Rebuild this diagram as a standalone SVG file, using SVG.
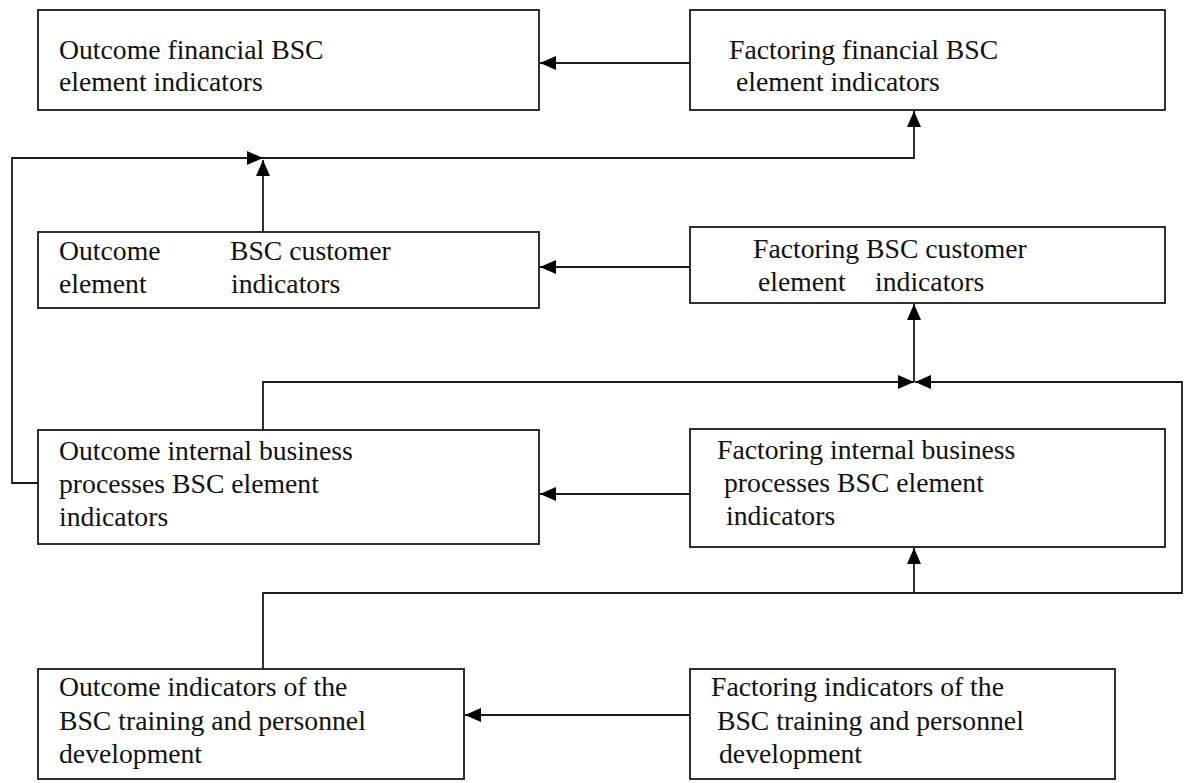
<svg xmlns="http://www.w3.org/2000/svg" width="1184" height="783" viewBox="0 0 1184 783">
<style>
.box{fill:#fff;stroke:#1a1a1a;stroke-width:1.8}
.t{font-size:27.7px;fill:#111}
.c{fill:none;stroke:#1a1a1a;stroke-width:1.8}
</style>
<defs>
<marker id="ah" markerUnits="userSpaceOnUse" markerWidth="16" markerHeight="14" refX="16" refY="7" orient="auto">
<path d="M0,0 L16,7 L0,14 z" fill="#000"/>
</marker>
</defs>
<rect width="1184" height="783" fill="#fff"/>
<g id="connectors">
<line class="c" x1="690" y1="63" x2="540" y2="63" marker-end="url(#ah)"/>
<line class="c" x1="690" y1="267" x2="540" y2="267" marker-end="url(#ah)"/>
<line class="c" x1="690" y1="494" x2="540" y2="494" marker-end="url(#ah)"/>
<line class="c" x1="690" y1="715" x2="465" y2="715" marker-end="url(#ah)"/>
<polyline class="c" points="38,483 12,483 12,158 263,158" marker-end="url(#ah)"/>
<line class="c" x1="263" y1="232" x2="263" y2="160" marker-end="url(#ah)"/>
<polyline class="c" points="263,158 914,158 914,111" marker-end="url(#ah)"/>
<polyline class="c" points="263,430 263,382 914,382" marker-end="url(#ah)"/>
<line class="c" x1="914" y1="382" x2="914" y2="304" marker-end="url(#ah)"/>
<polyline class="c" points="263,669 263,593 1182,593 1182,382 915,382" marker-end="url(#ah)"/>
<line class="c" x1="914" y1="593" x2="914" y2="548" marker-end="url(#ah)"/>
</g>
<g font-family="'Liberation Serif', 'Times New Roman', 'DejaVu Serif', serif">
<g id="n1">
<rect class="box" x="38" y="10" width="501" height="100"/>
<text class="t" x="59" y="59">Outcome financial BSC</text>
<text class="t" x="59" y="91">element indicators</text>
</g>
<g id="n2">
<rect class="box" x="690" y="10" width="475" height="100"/>
<text class="t" x="729" y="59">Factoring financial BSC</text>
<text class="t" x="736" y="91">element indicators</text>
</g>
<g id="n3">
<rect class="box" x="38" y="232" width="501" height="76"/>
<text class="t" x="59" y="260">Outcome</text>
<text class="t" x="230" y="260">BSC customer</text>
<text class="t" x="59" y="293">element</text>
<text class="t" x="231" y="293">indicators</text>
</g>
<g id="n4">
<rect class="box" x="690" y="227" width="475" height="76"/>
<text class="t" x="753" y="258">Factoring BSC customer</text>
<text class="t" x="758" y="291">element</text>
<text class="t" x="875" y="291">indicators</text>
</g>
<g id="n5">
<rect class="box" x="38" y="430" width="501" height="114"/>
<text class="t" x="59" y="460">Outcome internal business</text>
<text class="t" x="59" y="493">processes BSC element</text>
<text class="t" x="59" y="526">indicators</text>
</g>
<g id="n6">
<rect class="box" x="690" y="429" width="475" height="118"/>
<text class="t" x="717" y="459">Factoring internal business</text>
<text class="t" x="724" y="492">processes BSC element</text>
<text class="t" x="726" y="525">indicators</text>
</g>
<g id="n7">
<rect class="box" x="38" y="669" width="426" height="110"/>
<text class="t" x="59" y="696">Outcome indicators of the</text>
<text class="t" x="59" y="730">BSC training and personnel</text>
<text class="t" x="59" y="763">development</text>
</g>
<g id="n8">
<rect class="box" x="690" y="669" width="425" height="110"/>
<text class="t" x="711" y="696">Factoring indicators of the</text>
<text class="t" x="717" y="730">BSC training and personnel</text>
<text class="t" x="719" y="763">development</text>
</g>
</g>
</svg>
